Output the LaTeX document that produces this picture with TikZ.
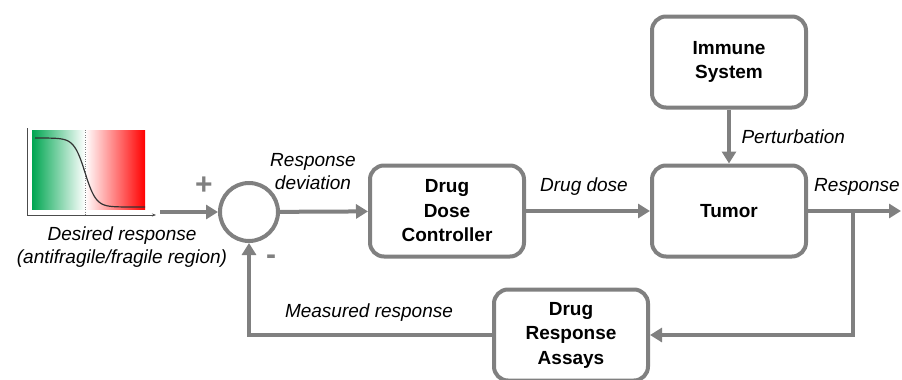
\documentclass[tikz,border=0pt]{standalone}
\usepackage{fontspec}
\setmainfont{Liberation Sans}
\usetikzlibrary{arrows.meta,positioning}
\definecolor{linegray}{RGB}{128,128,128}
\definecolor{goodgreen}{RGB}{0,166,81}
\definecolor{badred}{RGB}{255,0,0}
\tikzset{
  block/.style={draw=linegray, line width=4pt, rounded corners=14pt,
    minimum width=154pt, minimum height=91pt, align=center,
    font=\fontsize{19}{24.5}\selectfont\bfseries},
  sig/.style={draw=linegray, line width=4pt, -{Triangle[length=12pt,width=14pt]}},
  lbl/.style={font=\fontsize{19}{23}\selectfont\itshape, align=center},
  sign/.style={text=linegray, font=\fontsize{30}{30}\selectfont\bfseries},
}

\begin{document}
\begin{tikzpicture}[x=1pt,y=-1pt]
\useasboundingbox (0,0) rectangle (902,380);
% desired response curve
\shade[left color=goodgreen, right color=white] (32,130) rectangle (85,209);
\shade[left color=white, right color=badred] (85,130) rectangle (145,209);
\draw[gray, dotted] (85,130) -- (85,215);
\draw[black!80, line width=1.2pt] plot[domain=35:145, samples=80, smooth]
  (\x, {138+69/(1+exp(-(\x-85)/5.5))});
\draw[black!70, line width=1pt, -{Stealth[length=4pt,width=3pt]}] (27,128) -- (27,215) -- (156,215);
\node[lbl] (desired) at (122,247) {Desired response\\(antifragile/fragile region)};

% blocks
\node[circle, draw=linegray, line width=4pt, minimum size=58pt] (sum) at (249,212) {};
\node[block] (ctrl) at (447,211) {Drug\\Dose\\Controller};
\node[block] (tumor) at (729,211) {Tumor};
\node[block] (immune) at (729,62) {Immune\\System};
\node[block] (assay) at (571,335) {Drug\\Response\\Assays};
\coordinate (ref) at (160,212);
\coordinate (out) at (901,211);
\coordinate (split) at (853,211);

% signals
\draw[sig] (ref) -- (sum);
\draw[sig] (sum) -- (ctrl);
\draw[sig] (ctrl) -- (tumor);
\draw[sig] (immune) -- (tumor);
\draw[sig] (tumor) -- (out);
\draw[sig] (split) |- (assay);
\draw[sig] (assay) -| (sum);

% labels
\node[sign] (plus) at (204,186) {+};
\node[sign] (minus) at (271,260) {-};
\node[lbl] (dev) at (313,172) {Response\\deviation};
\node[lbl] (dose) at (584,187) {Drug dose};
\node[lbl, anchor=west] (pert) at (738,137) {Perturbation};
\node[lbl] (resp) at (857,187) {Response};
\node[lbl] (meas) at (369,313) {Measured response};
\end{tikzpicture}
\end{document}
